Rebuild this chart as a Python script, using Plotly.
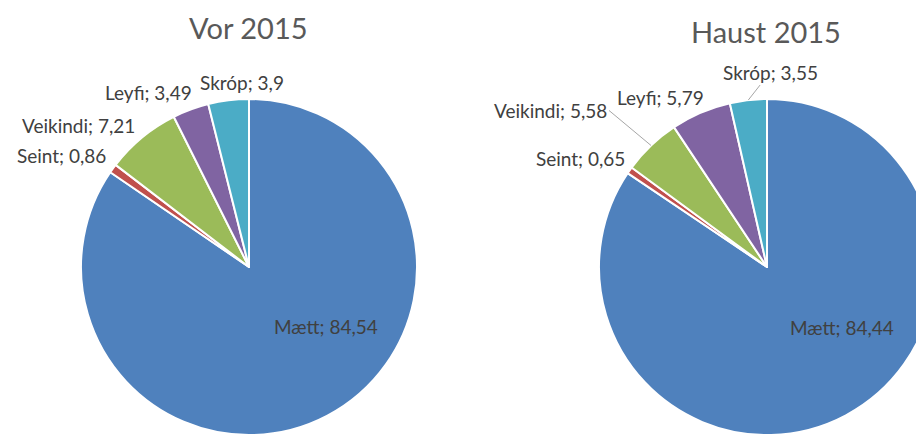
import math
import plotly.graph_objects as go

labels = ["Mætt", "Seint", "Veikindi", "Leyfi", "Skróp"]
vor_values = [84.54, 0.86, 7.21, 3.49, 3.9]
haust_values = [84.44, 0.65, 5.58, 5.79, 3.55]
titles = ["Vor 2015", "Haust 2015"]
colors = ["#4F81BD", "#C0504D", "#9BBB59", "#8064A2", "#4BACC6"]

FONT = "Lato"
W, H = 950, 450           # figure size (page shows 924x435 of it)
CX = [241, 759]           # pie centres, figure px
CY = 259
R = 168

# label placement: (xanchor, ax, ay, leader line?) per slice, per pie
label_style = [
    [("center", -1, -89, False), ("right", -5, -13, False), ("right", -5, -12, False),
     ("right", 3, -17, False), ("center", 14, -18, False)],
    [("center", -4, -88, False), ("right", -3, -12, False), ("right", -42, -35, True),
     ("right", 5, -15, False), ("center", 22, -28, True)],
]


def fmt(v):
    return str(v).replace(".", ",")


def px(x):
    return x / W


def py(y):
    return 1 - y / H


fig = go.Figure()
annotations = []
for i, values in enumerate([vor_values, haust_values]):
    fig.add_trace(go.Pie(
        labels=labels,
        values=values,
        textinfo="none",
        sort=False,
        direction="clockwise",
        rotation=0,
        marker=dict(colors=colors, line=dict(color="white", width=2)),
        domain=dict(x=[px(CX[i] - R), px(CX[i] + R)], y=[py(CY + R), py(CY - R)]),
        showlegend=False,
        hoverinfo="label+value",
    ))
    total = sum(values)
    cum = 0.0
    for j, (lab, v) in enumerate(zip(labels, values)):
        mid = (cum + v / 2) / total * 2 * math.pi
        cum += v
        ex = CX[i] + R * math.sin(mid)
        ey = CY - R * math.cos(mid)
        xa, ax, ay, leader = label_style[i][j]
        annotations.append(dict(
            text=f"{lab}; {fmt(v)}", x=px(ex), y=py(ey), xref="paper", yref="paper",
            showarrow=True, ax=ax, ay=ay, xanchor=xa, yanchor="middle",
            arrowhead=0, arrowwidth=1,
            arrowcolor="#A6A6A6" if leader else "rgba(0,0,0,0)",
            font=dict(family=FONT, size=19, color="#404040"),
        ))

annotations.append(dict(text=titles[0], x=px(240), y=py(0), xref="paper", yref="paper",
                        showarrow=False, xanchor="center", yanchor="top",
                        font=dict(family=FONT, size=29, color="#595959")))
annotations.append(dict(text=titles[1], x=px(758), y=py(4), xref="paper", yref="paper",
                        showarrow=False, xanchor="center", yanchor="top",
                        font=dict(family=FONT, size=29, color="#595959")))

fig.update_layout(
    width=W,
    height=H,
    margin=dict(l=0, r=0, t=0, b=0),
    paper_bgcolor="white",
    plot_bgcolor="white",
    font=dict(family=FONT, color="#404040"),
    annotations=annotations,
)

fig.write_html("out.html")
